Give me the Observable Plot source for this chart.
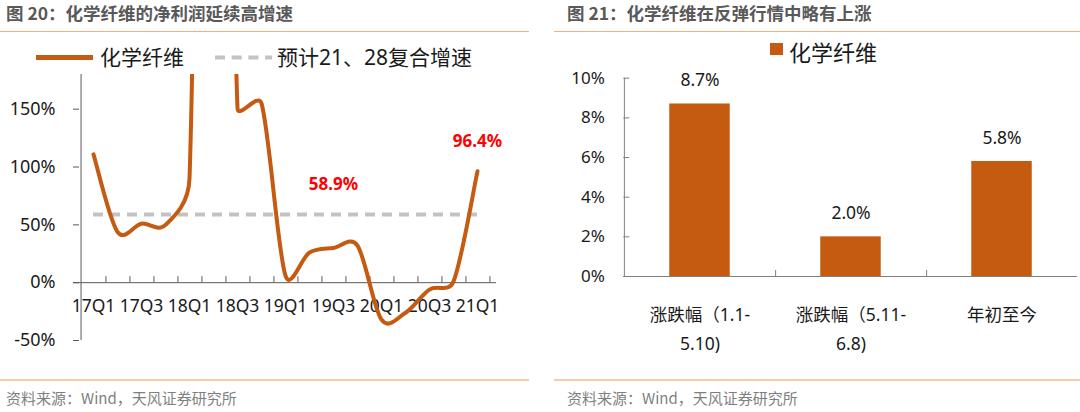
<!DOCTYPE html>
<html><head><meta charset="utf-8">
<script src="https://cdn.jsdelivr.net/npm/d3@7"></script>
<script src="https://cdn.jsdelivr.net/npm/@observablehq/plot@0.6"></script>
<style>
html,body{margin:0;padding:0;background:#fff;}
#root{position:relative;width:1080px;height:412px;overflow:hidden;font-family:"Noto Sans","Noto Sans CJK SC",sans-serif;}
.chart{position:absolute;top:0;}
.ov{position:absolute;z-index:2;white-space:nowrap;}
.title{top:4px;font-family:"Noto Sans CJK SC",sans-serif;font-weight:700;font-size:17.5px;line-height:17px;color:#595959;}
.topline{height:1.5px;top:30.5px;background:#f4b183;}
.botline{height:2px;top:378.5px;background:#f8cbad;}
.src{top:390px;font-family:"Noto Sans CJK SC",sans-serif;font-size:15px;line-height:15px;color:#7f7f7f;}
.leg{font-family:"Noto Sans","Noto Sans CJK SC",sans-serif;font-size:21px;line-height:21px;color:#1a1a1a;}
</style></head>
<body><div id="root">
  <div class="ov title" style="left:6px;">图 20：化学纤维的净利润延续高增速</div>
  <div class="ov topline" style="left:0;width:529px;"></div>
  <div class="ov botline" style="left:0;width:529px;"></div>
  <div class="ov src" style="left:6px;">资料来源：Wind，天风证券研究所</div>
  <svg class="ov" style="left:0;top:0;" width="540" height="80">
    <line x1="36" x2="93" y1="57.5" y2="57.5" stroke="#c55a11" stroke-width="5"></line>
    <line x1="215" x2="272" y1="57.5" y2="57.5" stroke="#c3c3c3" stroke-width="4" stroke-dasharray="10,6.7"></line>
  </svg>
  <div class="ov leg" style="left:100px;top:47px;">化学纤维</div>
  <div class="ov leg" style="left:277px;top:47px;">预计21、28复合增速</div>

  <div class="ov title" style="left:567px;">图 21：化学纤维在反弹行情中略有上涨</div>
  <div class="ov topline" style="left:554px;width:526px;"></div>
  <div class="ov botline" style="left:554px;width:526px;"></div>
  <div class="ov src" style="left:567px;">资料来源：Wind，天风证券研究所</div>
  <div class="ov" style="left:770px;top:42.7px;width:13px;height:12px;background:#c55a11;"></div>
  <div class="ov leg" style="left:789px;top:41px;font-size:22px;line-height:22px;">化学纤维</div>

  <div id="left" class="chart" style="left:0;"></div>
  <div id="right" class="chart" style="left:540px;"></div>
</div>
<script>
// ---------- data ----------
const quarters = ["17Q1","17Q2","17Q3","17Q4","18Q1","18Q2","18Q3","18Q4","19Q1","19Q2","19Q3","19Q4","20Q1","20Q2","20Q3","20Q4","21Q1"];
const growth = [111, 44, 51, 50, 90, 1200, 151, 155, 6, 26, 30, 32, -32, -26, -6, 1, 96.4];
const cagr = 58.9;
const xTickLabels = ["17Q1","17Q3","18Q1","18Q3","19Q1","19Q3","20Q1","20Q3","21Q1"];
const yTicksL = [-50, 0, 50, 100, 150];
const annotQuarters = ["19Q3", "21Q1"];
const annotValues = [58.9, 96.4];

const barCats = ["涨跌幅（1.1-\n5.10)", "涨跌幅（5.11-\n6.8)", "年初至今"];
const barValues = [8.7, 2.0, 5.8];
const yTicksR = [0, 2, 4, 6, 8, 10];

// Excel-like smoothed line (Bezier with 1/6 tension, limited to half segment length)
function excelSmooth(context) {
  let pts = [];
  return {
    areaStart() {}, areaEnd() {},
    lineStart() { pts = []; },
    point(x, y) { pts.push([+x, +y]); },
    lineEnd() {
      const n = pts.length;
      if (!n) return;
      context.moveTo(pts[0][0], pts[0][1]);
      for (let i = 0; i < n - 1; i++) {
        const p0 = pts[Math.max(i - 1, 0)], p1 = pts[i], p2 = pts[i + 1], p3 = pts[Math.min(i + 2, n - 1)];
        const d02 = Math.hypot(p2[0] - p0[0], p2[1] - p0[1]);
        const d13 = Math.hypot(p3[0] - p1[0], p3[1] - p1[1]);
        const d12 = Math.hypot(p2[0] - p1[0], p2[1] - p1[1]);
        const f1 = d02 > 0 ? Math.min(1 / 6, d12 / (2 * d02)) : 0;
        const f2 = d13 > 0 ? Math.min(1 / 6, d12 / (2 * d13)) : 0;
        context.bezierCurveTo(
          p1[0] + f1 * (p2[0] - p0[0]), p1[1] + f1 * (p2[1] - p0[1]),
          p2[0] - f2 * (p3[0] - p1[0]), p2[1] - f2 * (p3[1] - p1[1]),
          p2[0], p2[1]);
      }
    }
  };
}

const fontStack = '"Noto Sans","Noto Sans CJK SC",sans-serif';
const orange = "#c55a11";
const tickPx = 6;

// ---------- left chart ----------
const L = {w: 540, h: 412, ml: 73, mr: 44, mt: 74, mb: 72};
const yDomL = [-50, 180];
const plotWL = L.w - L.ml - L.mr;
const pxPerUnitL = (L.h - L.mt - L.mb) / (yDomL[1] - yDomL[0]);
const stepL = plotWL / quarters.length;
const series = quarters.map((q, i) => ({q, v: growth[i]}));
const axisL = "#595959";

const left = Plot.plot({
  width: L.w, height: L.h,
  marginLeft: L.ml, marginRight: L.mr, marginTop: L.mt, marginBottom: L.mb,
  style: {fontFamily: fontStack, fontSize: "18px", color: "#1a1a1a", background: "transparent", overflow: "visible"},
  x: {type: "point", domain: quarters, padding: 0.5, axis: null},
  y: {domain: yDomL, ticks: yTicksL, tickFormat: d => d + "%", tickSize: 0, tickPadding: 18, label: null},
  marks: [
    Plot.ruleX([quarters[0]], {x: d => d, dx: -stepL / 2, y1: yDomL[0], y2: yDomL[1], stroke: axisL}),
    Plot.ruleY([0], {stroke: axisL}),
    Plot.ruleY(yTicksL, {stroke: axisL, insetRight: plotWL - tickPx}),
    Plot.ruleX(quarters, {x: d => d, dx: stepL / 2, y1: 0, y2: tickPx / pxPerUnitL, stroke: axisL}),
    Plot.text(xTickLabels, {x: d => d, y: 0, dy: 24, text: d => d, fontSize: 17.5, fill: "#1a1a1a"}),
    Plot.ruleY([cagr], {y: d => d, x1: () => quarters[0], x2: () => quarters[quarters.length - 1],
      stroke: "#c3c3c3", strokeWidth: 4, strokeDasharray: "10,7"}),
    Plot.line(series, {x: "q", y: "v", curve: excelSmooth, stroke: orange, strokeWidth: 4, clip: true}),
    Plot.text(annotQuarters, {x: d => d, y: (d, i) => annotValues[i], dy: -30,
      text: (d, i) => annotValues[i].toFixed(1) + "%", fill: "#ff0000", fontWeight: "bold", fontSize: 17})
  ]
});
document.getElementById("left").appendChild(left);

// ---------- right chart ----------
const R = {w: 540, h: 412, ml: 83.3, mr: 3, mt: 77.7, mb: 136};
const plotWR = R.w - R.ml - R.mr;
const stepR = plotWR / barCats.length;
const pxPerUnitR = (R.h - R.mt - R.mb) / 10;
const bars = barCats.map((c, i) => ({c, v: barValues[i]}));
const axisR = "#808080";
const barInset = (stepR - 60.7) / 2;

const right = Plot.plot({
  width: R.w, height: R.h,
  marginLeft: R.ml, marginRight: R.mr, marginTop: R.mt, marginBottom: R.mb,
  style: {fontFamily: fontStack, fontSize: "17px", color: "#1a1a1a", background: "transparent", overflow: "visible"},
  x: {domain: barCats, padding: 0, axis: null},
  y: {domain: [0, 10], ticks: yTicksR, tickFormat: d => d + "%", tickSize: 0, tickPadding: 19, label: null},
  marks: [
    Plot.barY(bars, {x: "c", y: "v", fill: orange, insetLeft: barInset, insetRight: barInset}),
    Plot.ruleX([barCats[0]], {x: d => d, dx: -stepR / 2, y1: 0, y2: 10, stroke: axisR}),
    Plot.ruleY([0], {stroke: axisR}),
    Plot.ruleY(yTicksR, {stroke: axisR, insetRight: plotWR - tickPx}),
    Plot.ruleX(barCats.slice(0, -1), {x: d => d, dx: stepR / 2, y1: 0, y2: tickPx / pxPerUnitR, stroke: axisR}),
    Plot.text(bars, {x: "c", y: "v", dy: -23.5, text: d => d.v.toFixed(1) + "%", fontSize: 17.5, fill: "#1a1a1a"}),
    Plot.text(barCats, {x: d => d, y: 0, dy: 23.7, lineAnchor: "top", lineHeight: 1.66, text: d => d, fontSize: 17.5, fill: "#1a1a1a"})
  ]
});
document.getElementById("right").appendChild(right);
</script>
</body></html>
